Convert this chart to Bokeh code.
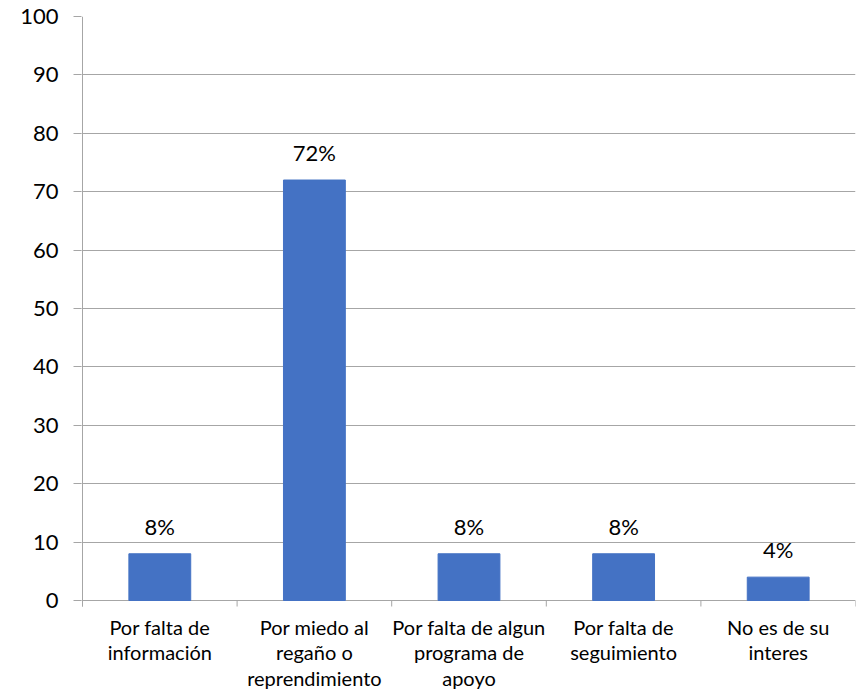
from bokeh.plotting import figure
from bokeh.models import FixedTicker, Range1d, ColumnDataSource, LabelSet
from bokeh.core.properties import value
from bokeh.embed import file_html
from bokeh.resources import INLINE

categories = ["Por falta de\ninformación", "Por miedo al\nregaño o\nreprendimiento",
              "Por falta de algun\nprograma de\napoyo", "Por falta de\nseguimiento",
              "No es de su\ninteres"]
values = [8, 72, 8, 8, 4]
value_labels = ["8%", "72%", "8%", "8%", "4%"]
y_ticks = [0, 10, 20, 30, 40, 50, 60, 70, 80, 90, 100]

FONT = "Lato"
GRAY = "#A6A6A6"

# layout (pixels)
W, H = 858, 691
LEFT, RIGHT, TOP = 81, 3, 16
AXIS_Y_PX = 600          # pixel row of value 0
TICK_PX = 6
FIRST_BASELINE_PX = 34   # below the category axis
LINE_PX = 25.5
n = len(categories)
ymax = y_ticks[-1]
px_per_unit_y = (AXIS_Y_PX - TOP) / ymax
y_start = -(H - AXIS_Y_PX) / px_per_unit_y
px_per_cat = (W - LEFT - RIGHT - 1) / n
x_start = -1.0 / px_per_cat
tick_units = TICK_PX / px_per_unit_y

xs = [i + 0.5 for i in range(n)]
src = ColumnDataSource(dict(x=xs, top=values, lab=value_labels))

p = figure(width=W, height=H, output_backend="svg", toolbar_location=None,
           x_range=Range1d(x_start, n), y_range=Range1d(y_start, ymax),
           min_border_left=LEFT, min_border_right=RIGHT, min_border_top=TOP, min_border_bottom=0)
p.outline_line_color = None
p.background_fill_color = "white"
p.border_fill_color = "white"
p.xaxis.visible = False
p.xgrid.grid_line_color = None

# horizontal gridlines (the one at 0 is the category axis line)
p.ygrid.ticker = FixedTicker(ticks=y_ticks)
p.ygrid.grid_line_color = GRAY
p.ygrid.grid_line_width = 1

# value axis line and category boundary ticks
bounds = list(range(n + 1))
p.segment(x0=[0], y0=[-tick_units], x1=[0], y1=[ymax], line_color=GRAY, line_width=1)
p.segment(x0=bounds, y0=[-tick_units] * len(bounds), x1=bounds, y1=[0] * len(bounds),
          line_color=GRAY, line_width=1)

p.vbar(x="x", top="top", width=0.4, source=src, color="#4472C4")

labels = LabelSet(x="x", y="top", text="lab", source=src, text_align="center",
                  text_baseline="alphabetic", y_offset=19, text_font=value(FONT),
                  text_font_size="22px", text_color="black")
p.add_layout(labels)

# category labels, one centred line at a time
split = [c.split("\n") for c in categories]
max_lines = max(len(s) for s in split)
for k in range(max_lines):
    lx = [x for x, s in zip(xs, split) if len(s) > k]
    lt = [s[k] for s in split if len(s) > k]
    lsrc = ColumnDataSource(dict(x=lx, y=[0] * len(lx), lab=lt))
    p.add_layout(LabelSet(x="x", y="y", text="lab", source=lsrc, text_align="center",
                          text_baseline="alphabetic",
                          y_offset=-(FIRST_BASELINE_PX + k * LINE_PX),
                          text_font=value(FONT), text_font_size="20px", text_color="black"))

# y axis
p.yaxis.ticker = FixedTicker(ticks=y_ticks)
p.yaxis.axis_line_color = None
p.yaxis.major_tick_line_color = GRAY
p.yaxis.major_tick_out = 8
p.yaxis.major_tick_in = 0
p.yaxis.minor_tick_line_color = None
p.yaxis.major_label_standoff = 15
p.yaxis.major_label_text_font = FONT
p.yaxis.major_label_text_font_size = "22px"
p.yaxis.major_label_text_color = "black"

open("out.html", "w").write(file_html(p, INLINE))
